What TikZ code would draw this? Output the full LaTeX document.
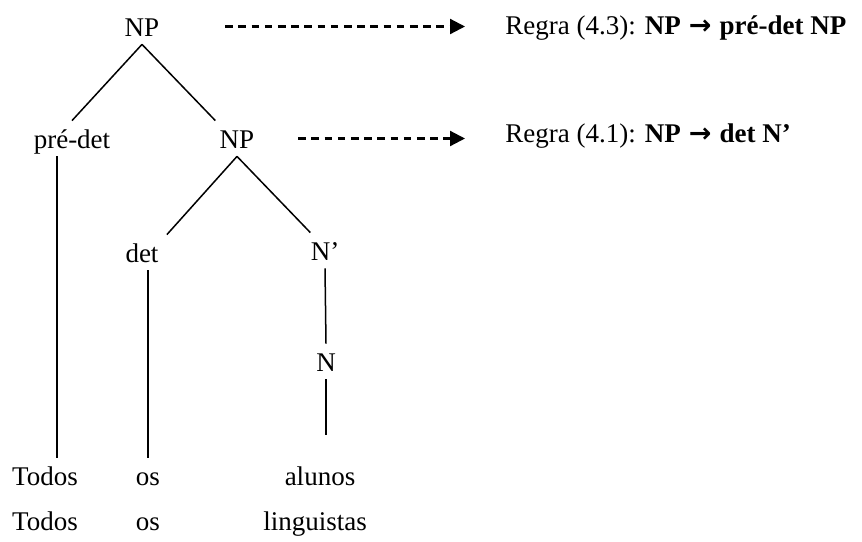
\documentclass[tikz,border=0pt]{standalone}
\usepackage{fontspec}
\setmainfont{Liberation Serif}
\newfontfamily\symfont{DejaVu Sans}
\usepackage{tikz}
\usetikzlibrary{arrows.meta}

\newcommand{\rarr}{\hspace{0.3em}{\symfont\bfseries →}\hspace{0.3em}}

\begin{document}
\begin{tikzpicture}[x=0.5pt,y=-0.5pt,font=\fontsize{13.5}{16}\selectfont,
    every node/.style={anchor=base,text height=9.5pt,text depth=0pt,inner xsep=2pt,inner ysep=4pt},
    rule/.style={anchor=base west,inner sep=0pt},
    ruleline/.style={dash pattern=on 3.8pt off 2.8pt,line width=1.1pt,-{Triangle[length=7.5pt,width=7.5pt]}},
    branch/.style={line width=0.75pt}]
  \useasboundingbox (0,0) rectangle (862,541);

  % Tree
  \node (np1) at (142,36) {NP};
  \node (pd) at (72,148) {pré-det};
  \node (np2) at (237,148) {NP};
  \node (det) at (142,262) {det};
  \node (nb) at (325,260) {N’};
  \node (n) at (326,371) {N};

  % Words
  \node (t1) at (45,485) {Todos};
  \node (os1) at (148,485) {os};
  \node (al) at (320,485) {alunos};
  \node (t2) at (45,530) {Todos};
  \node (os2) at (148,530) {os};
  \node (li) at (315,530) {linguistas};

  \draw[branch] (np1.south) -- (pd.north);
  \draw[branch] (np1.south) -- (np2.north west);
  \draw[branch] (np2.south) -- ([xshift=2pt]det.north east);
  \draw[branch] (np2.south) -- ([xshift=2pt]nb.north west);
  \draw[branch] (nb.south) -- (n.north);
  \draw[branch,shorten >=11.5pt] (n.south) -- (n.south |- al.north);
  \draw[branch] ([xshift=-7.5pt]pd.south) -- ([xshift=-7.5pt]pd.south |- t1.north);
  \draw[branch] (det.south -| os1.north) -- (os1.north);

  % Rules
  \node[rule] (r1) at (505,34) {Regra (4.3): \textbf{NP\rarr pré-det NP}};
  \node[rule] (r2) at (505,142) {Regra (4.1): \textbf{NP\rarr det N’}};

  \draw[ruleline,shorten <=30.75pt,shorten >=20pt] (np1.east) -- (np1.east -| r1.west);
  \draw[ruleline,shorten <=19.75pt,shorten >=20pt] (np2.east) -- (np2.east -| r2.west);
\end{tikzpicture}
\end{document}
